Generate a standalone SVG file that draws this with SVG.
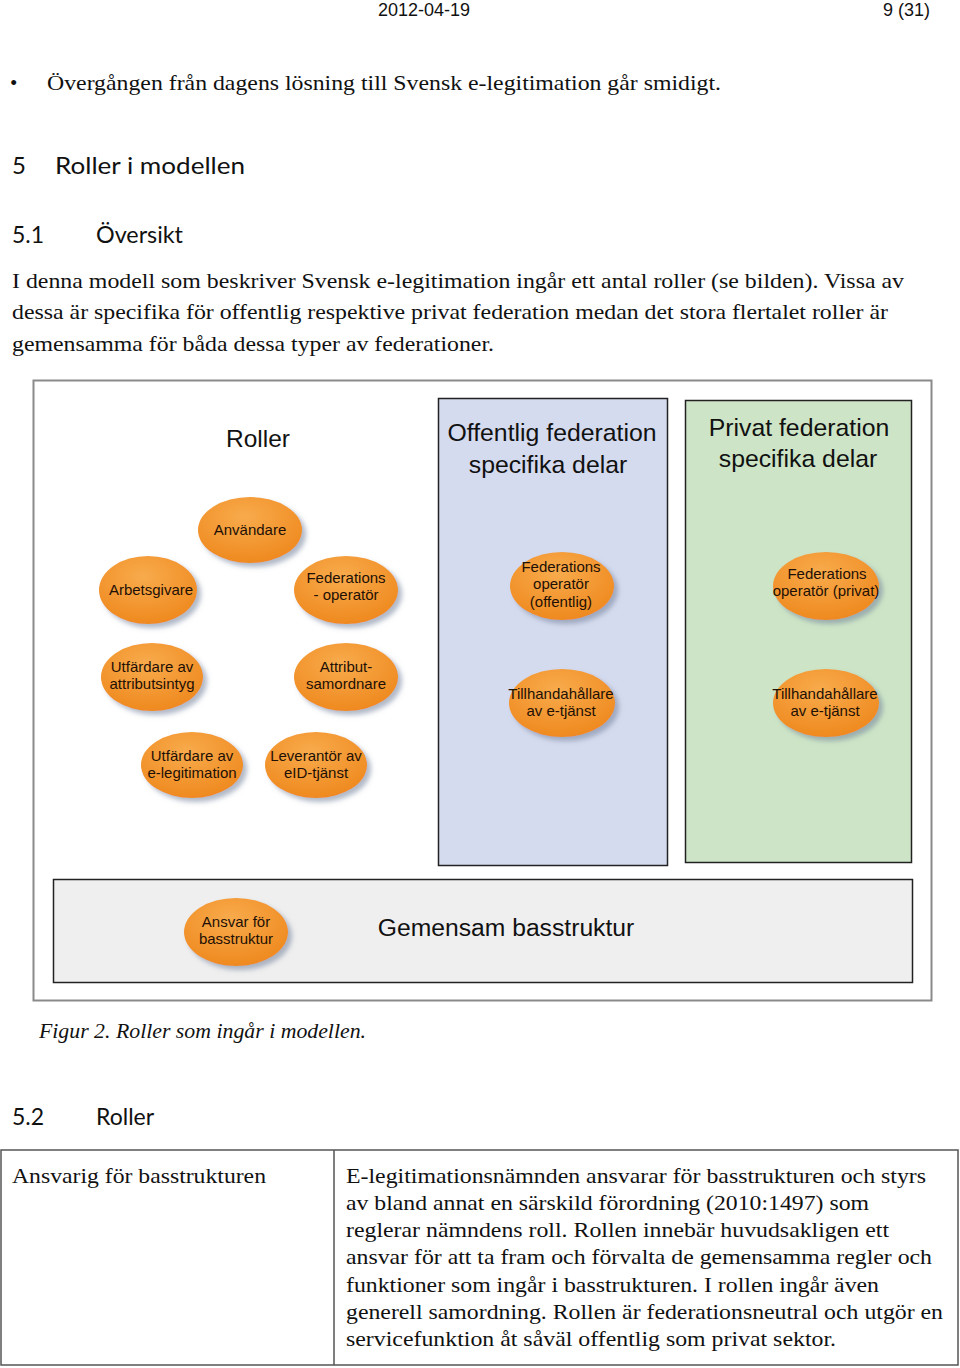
<svg xmlns="http://www.w3.org/2000/svg" width="960" height="1368" viewBox="0 0 960 1368">
<defs>
<radialGradient id="og" cx="0.45" cy="0.3" r="0.75">
<stop offset="0" stop-color="#f8ab4c"/>
<stop offset="1" stop-color="#ee871c"/>
</radialGradient>
<filter id="sh" x="-30%" y="-30%" width="170%" height="170%">
<feDropShadow dx="4" dy="4" stdDeviation="2.5" flood-color="#6f7f9a" flood-opacity="0.55"/>
</filter>
<style>
.serif{font-family:"Times New Roman","Liberation Serif",Tinos,serif;fill:#111}
.sans{font-family:"Liberation Sans",Arial,sans-serif;fill:#111}
.cal{font-family:Lato,"Open Sans",sans-serif;fill:#111}
.ell{fill:url(#og);filter:url(#sh)}
.et{font-family:"Liberation Sans",Arial,sans-serif;font-size:15px;fill:#1e1005;text-anchor:middle}
.big{font-family:"Liberation Sans",Arial,sans-serif;font-size:24.8px;fill:#111;text-anchor:middle}
</style>
</defs>
<rect width="960" height="1368" fill="#fff"/>

<!-- page header -->
<text class="sans" x="424" y="16" font-size="18" text-anchor="middle">2012-04-19</text>
<text class="sans" x="930" y="16" font-size="18" text-anchor="end">9 (31)</text>

<text class="serif" x="10" y="90" font-size="21">•</text>
<text class="serif" x="47" y="90" font-size="21" textLength="674" lengthAdjust="spacingAndGlyphs">Övergången från dagens lösning till Svensk e-legitimation går smidigt.</text>

<text class="cal" x="12" y="174" font-size="24">5</text>
<text class="cal" x="55" y="174" font-size="24" textLength="190" lengthAdjust="spacingAndGlyphs">Roller i modellen</text>
<text class="cal" x="12" y="243" font-size="23">5.1</text>
<text class="cal" x="96" y="243" font-size="23" textLength="87" lengthAdjust="spacingAndGlyphs">Översikt</text>

<text class="serif" x="12" y="288" font-size="21" textLength="892" lengthAdjust="spacingAndGlyphs">I denna modell som beskriver Svensk e-legitimation ingår ett antal roller (se bilden). Vissa av</text>
<text class="serif" x="12" y="319" font-size="21" textLength="876" lengthAdjust="spacingAndGlyphs">dessa är specifika för offentlig respektive privat federation medan det stora flertalet roller är</text>
<text class="serif" x="12" y="351" font-size="21" textLength="482" lengthAdjust="spacingAndGlyphs">gemensamma för båda dessa typer av federationer.</text>

<!-- diagram frame -->
<g id="frame">
<rect x="33.5" y="380.5" width="898" height="620" fill="#fff" stroke="#8a8a8a" stroke-width="2"/>
<text class="sans" x="258" y="447" font-size="24.5" text-anchor="middle">Roller</text>
</g>

<g id="offentlig-box">
<rect x="438.5" y="398.5" width="229" height="467" fill="#d5dbee" stroke="#222" stroke-width="1.5"/>
<text class="big" x="552" y="441">Offentlig federation</text>
<text class="big" x="548" y="473">specifika delar</text>
</g>

<g id="privat-box">
<rect x="685.5" y="400.5" width="226" height="462" fill="#cde5c6" stroke="#222" stroke-width="1.5"/>
<text class="big" x="799" y="436">Privat federation</text>
<text class="big" x="798" y="467">specifika delar</text>
</g>

<g id="gemensam-box">
<rect x="53.5" y="879.5" width="859" height="103" fill="#efefef" stroke="#222" stroke-width="1.5"/>
<text class="sans" x="506" y="936" font-size="24.7" text-anchor="middle">Gemensam basstruktur</text>
</g>

<g id="connectors"></g>

<g id="anvandare">
<ellipse class="ell" cx="250" cy="530" rx="52" ry="33"/>
<text class="et" x="250" y="535">Användare</text>
</g>
<g id="arbetsgivare">
<ellipse class="ell" cx="148" cy="590" rx="49" ry="34"/>
<text class="et" x="151" y="595">Arbetsgivare</text>
</g>
<g id="federationsoperator">
<ellipse class="ell" cx="346" cy="590" rx="52" ry="34"/>
<text class="et" x="346" y="583">Federations</text>
<text class="et" x="346" y="600">- operatör</text>
</g>
<g id="utfardare-attributsintyg">
<ellipse class="ell" cx="152" cy="677" rx="51" ry="34"/>
<text class="et" x="152" y="672">Utfärdare av</text>
<text class="et" x="152" y="689">attributsintyg</text>
</g>
<g id="attributsamordnare">
<ellipse class="ell" cx="346" cy="677" rx="52" ry="34"/>
<text class="et" x="346" y="672">Attribut-</text>
<text class="et" x="346" y="689">samordnare</text>
</g>
<g id="utfardare-elegitimation">
<ellipse class="ell" cx="192" cy="765" rx="51" ry="33"/>
<text class="et" x="192" y="761">Utfärdare av</text>
<text class="et" x="192" y="778">e-legitimation</text>
</g>
<g id="leverantor-eid">
<ellipse class="ell" cx="316" cy="765" rx="51" ry="33"/>
<text class="et" x="316" y="761">Leverantör av</text>
<text class="et" x="316" y="778">eID-tjänst</text>
</g>
<g id="fedop-offentlig">
<ellipse class="ell" cx="562" cy="586" rx="52" ry="34"/>
<text class="et" x="561" y="572">Federations</text>
<text class="et" x="561" y="589">operatör</text>
<text class="et" x="561" y="607">(offentlig)</text>
</g>
<g id="fedop-privat">
<ellipse class="ell" cx="826" cy="586" rx="53" ry="34"/>
<text class="et" x="827" y="579">Federations</text>
<text class="et" x="826" y="596">operatör (privat)</text>
</g>
<g id="tillhanda-offentlig">
<ellipse class="ell" cx="562" cy="703" rx="53" ry="34"/>
<text class="et" x="561" y="699">Tillhandahållare</text>
<text class="et" x="561" y="716">av e-tjänst</text>
</g>
<g id="tillhanda-privat">
<ellipse class="ell" cx="826" cy="703" rx="53" ry="34"/>
<text class="et" x="825" y="699">Tillhandahållare</text>
<text class="et" x="825" y="716">av e-tjänst</text>
</g>
<g id="ansvar-basstruktur">
<ellipse class="ell" cx="236" cy="932" rx="52" ry="34"/>
<text class="et" x="236" y="927" font-size="14">Ansvar för</text>
<text class="et" x="236" y="944" font-size="14">basstruktur</text>
</g>

<text class="serif" x="39" y="1038" font-size="20" font-style="italic" textLength="327" lengthAdjust="spacingAndGlyphs">Figur 2. Roller som ingår i modellen.</text>

<text class="cal" x="12" y="1125" font-size="23">5.2</text>
<text class="cal" x="96" y="1125" font-size="23">Roller</text>

<!-- table -->
<g id="table">
<rect x="1" y="1150" width="957" height="215" fill="none" stroke="#555" stroke-width="1.5"/>
<line x1="334" y1="1150" x2="334" y2="1365" stroke="#555" stroke-width="1.5"/>
<text class="serif" x="12" y="1183" font-size="21" textLength="254" lengthAdjust="spacingAndGlyphs">Ansvarig för basstrukturen</text>
<text class="serif" x="346" y="1183" font-size="21" textLength="580" lengthAdjust="spacingAndGlyphs">E-legitimationsnämnden ansvarar för basstrukturen och styrs</text>
<text class="serif" x="346" y="1210" font-size="21" textLength="523" lengthAdjust="spacingAndGlyphs">av bland annat en särskild förordning (2010:1497) som</text>
<text class="serif" x="346" y="1237" font-size="21" textLength="543" lengthAdjust="spacingAndGlyphs">reglerar nämndens roll. Rollen innebär huvudsakligen ett</text>
<text class="serif" x="346" y="1264" font-size="21" textLength="586" lengthAdjust="spacingAndGlyphs">ansvar för att ta fram och förvalta de gemensamma regler och</text>
<text class="serif" x="346" y="1292" font-size="21" textLength="533" lengthAdjust="spacingAndGlyphs">funktioner som ingår i basstrukturen. I rollen ingår även</text>
<text class="serif" x="346" y="1319" font-size="21" textLength="597" lengthAdjust="spacingAndGlyphs">generell samordning. Rollen är federationsneutral och utgör en</text>
<text class="serif" x="346" y="1346" font-size="21" textLength="490" lengthAdjust="spacingAndGlyphs">servicefunktion åt såväl offentlig som privat sektor.</text>
</g>
</svg>
